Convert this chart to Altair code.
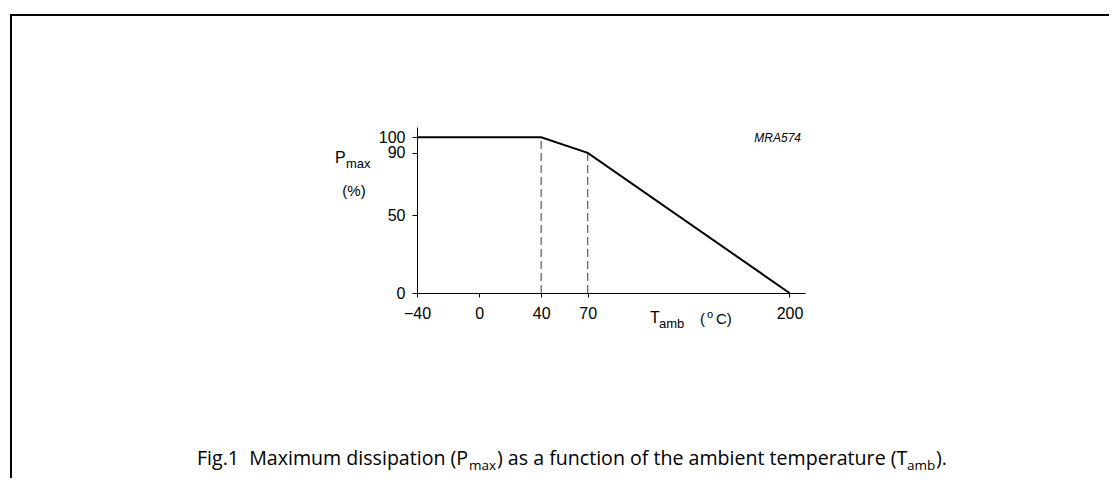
import altair as alt
import pandas as pd

# ---- data ----
temps = [-40, 40, 70, 200]          # T_amb (°C)
pmax = [100, 100, 90, 0]            # P_max (%)
knee_temps = [40, 70]
knee_pmax = [100, 90]
x_ticks = [-40, 0, 40, 70, 200]
y_ticks = [0, 50, 90, 100]
x_domain = [-40, 210]
y_domain = [0, 106.6]

line_df = pd.DataFrame({"t": temps, "p": pmax})
knee_df = pd.DataFrame({"t": knee_temps, "p": knee_pmax})

W, H = 388, 166
OX, OY = 417, 127  # page position of plot origin

xs = alt.Scale(domain=x_domain, nice=False, zero=False)
ys = alt.Scale(domain=y_domain, nice=False, zero=False)

line = alt.Chart(line_df).mark_line(color="black", strokeWidth=2).encode(
    x=alt.X("t:Q", scale=xs,
            axis=alt.Axis(values=x_ticks, title=None, tickSize=4, labelPadding=8,
                          format="d", labelFlush=False, labelOverlap=False)),
    y=alt.Y("p:Q", scale=ys,
            axis=alt.Axis(values=y_ticks, title=None, tickSize=5, labelPadding=7,
                          format="d", labelFlush=False, labelOverlap=False)),
)

dashed = alt.Chart(knee_df).transform_calculate(z="0").mark_rule(
    color="#3a3a3a", strokeWidth=1, strokeDash=[8, 4]
).encode(
    x=alt.X("t:Q", scale=xs),
    y=alt.Y("z:Q", scale=ys),
    y2="p:Q",
)

one = pd.DataFrame({"a": [0]})


def txt(s, px, py, size, font="Liberation Sans", align="left", style="normal"):
    return alt.Chart(one).mark_text(
        text=s, x=px - OX, y=py - OY, fontSize=size, font=font, align=align,
        baseline="alphabetic", fontStyle=style, color="black",
    )


CAP = "Open Sans"
texts = [
    # y title
    txt("P", 335, 163, 16),
    txt("max", 346, 168, 13),
    txt("(%)", 354, 196, 15, align="center"),
    # x title
    txt("T", 650, 323, 16),
    txt("amb", 659, 328, 13),
    txt("(", 700, 324, 15),
    txt("o", 707, 318, 11),
    txt("C)", 716, 324, 15),
    # code
    txt("MRA574", 801, 142, 12, align="right", style="italic"),
    # caption
    txt("Fig.1\u00a0\u00a0Maximum dissipation (P", 197, 465, 19.6, font=CAP),
    txt("max", 469, 470, 13.5, font=CAP),
    txt(") as a function of the ambient temperature (T", 497, 465, 19.6, font=CAP),
    txt("amb", 907, 470, 13.5, font=CAP),
    txt(").", 936, 465, 19.6, font=CAP),
]

border_top = alt.Chart(one).mark_rule(color="black", strokeWidth=2).encode(
    x=alt.value(10 - OX), x2=alt.value(1109 - OX), y=alt.value(15 - OY)
)
border_left = alt.Chart(one).mark_rule(color="black", strokeWidth=2).encode(
    x=alt.value(11 - OX), y=alt.value(14 - OY), y2=alt.value(478 - OY)
)

chart = alt.layer(dashed, line, *texts, border_top, border_left).properties(
    width=W, height=H,
    padding={"left": OX - 8, "top": OY - 8, "right": 1101 - (OX - 8) - W,
             "bottom": 470 - (OY - 8) - H},
    autosize=alt.AutoSizeParams(type="none"),
    background="white",
).configure_view(stroke=None).configure_axis(
    grid=False, domainColor="black", domainWidth=1, tickColor="black", tickWidth=1,
    labelColor="black", labelFont="Liberation Sans", labelFontSize=16,
)

chart.save("out.html", embed_options={"renderer": "svg", "actions": False})
